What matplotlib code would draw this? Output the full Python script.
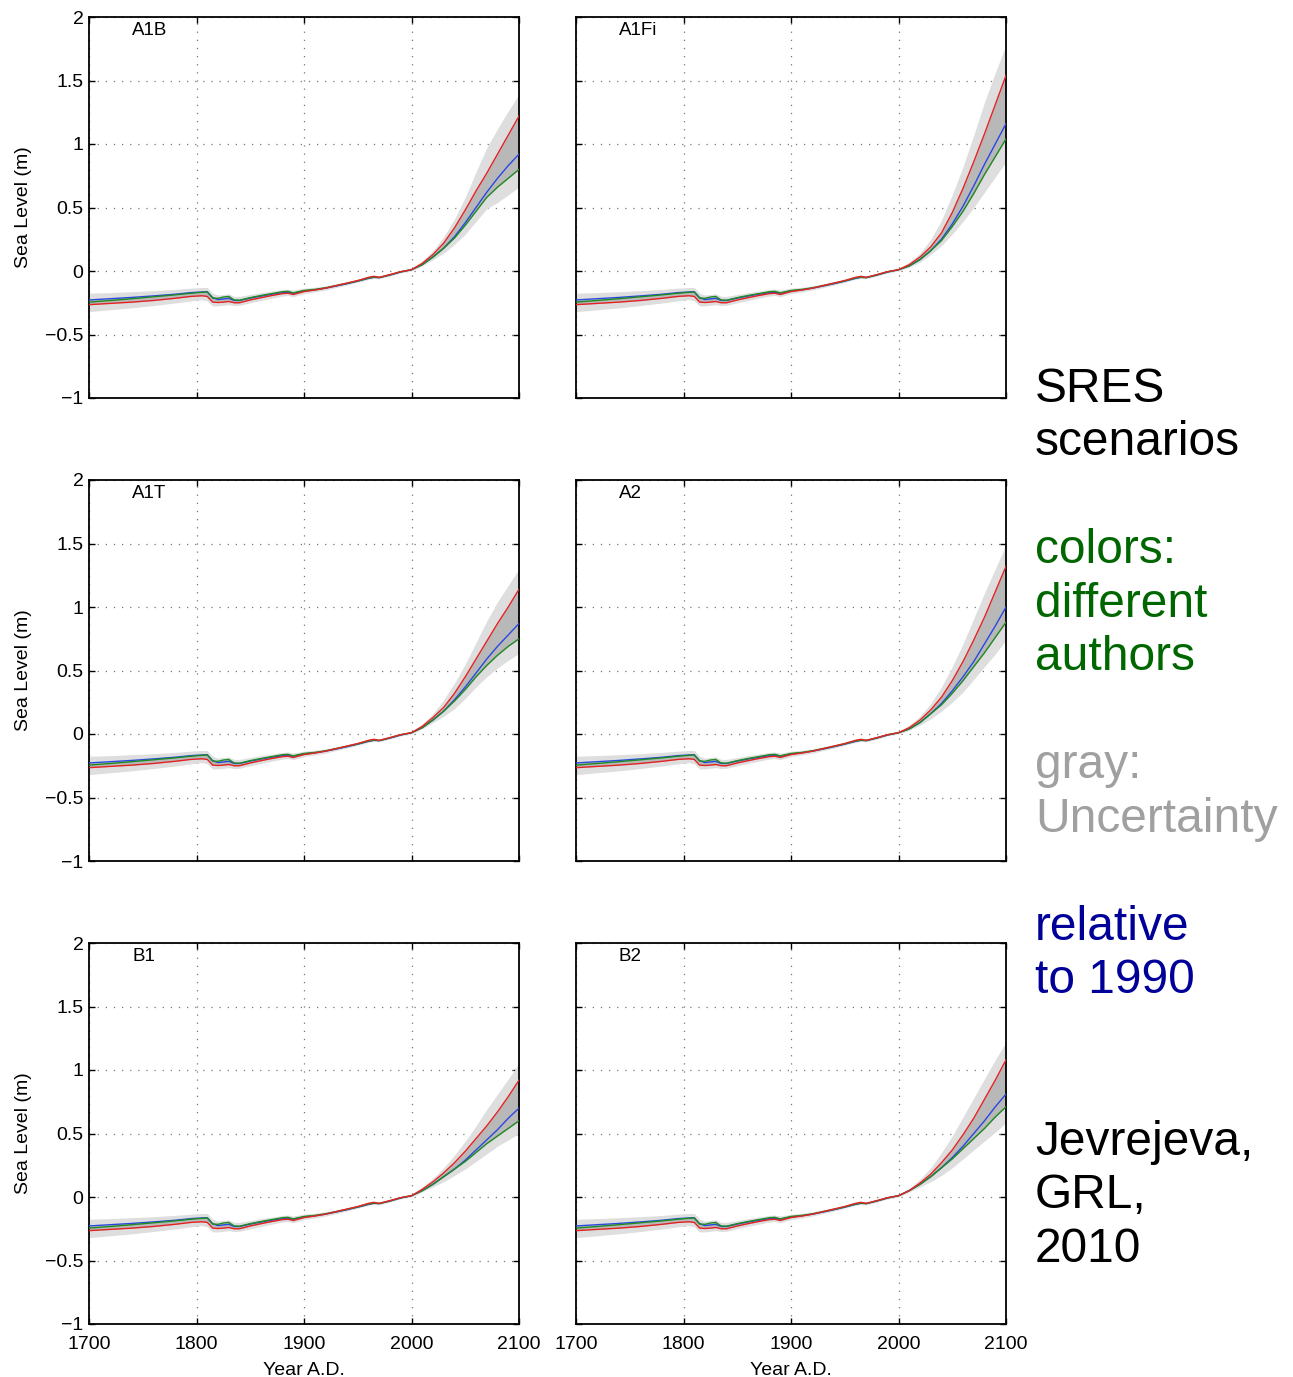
import numpy as np
import matplotlib
matplotlib.use("Agg")
import matplotlib.pyplot as plt

plt.rcParams["font.family"] = ["Liberation Sans", "DejaVu Sans"]

# historic reconstruction, shared by every panel (m, relative to 1990)
years_hist = [1700, 1720, 1740, 1760, 1780, 1795, 1805, 1810, 1815, 1820, 1825,
              1830, 1835, 1840, 1850, 1860, 1870, 1880, 1885, 1890, 1900, 1910,
              1920, 1930, 1940, 1950, 1960, 1965, 1970, 1980, 1990]
red_hist = [-0.265, -0.255, -0.245, -0.232, -0.215, -0.20, -0.195, -0.20, -0.245,
            -0.248, -0.245, -0.24, -0.25, -0.25, -0.228, -0.21, -0.193, -0.178,
            -0.175, -0.185, -0.162, -0.150, -0.135, -0.115, -0.095, -0.075, -0.05,
            -0.042, -0.05, -0.028, -0.005]
blue_hist = [-0.228, -0.218, -0.208, -0.196, -0.183, -0.170, -0.165, -0.163, -0.210,
             -0.225, -0.220, -0.215, -0.232, -0.232, -0.213, -0.197, -0.183, -0.170,
             -0.168, -0.175, -0.157, -0.148, -0.135, -0.118, -0.100, -0.080, -0.058,
             -0.050, -0.052, -0.032, -0.008]
green_hist = [-0.245, -0.232, -0.218, -0.203, -0.188, -0.175, -0.168, -0.165, -0.213,
              -0.215, -0.205, -0.200, -0.228, -0.230, -0.210, -0.193, -0.178, -0.163,
              -0.160, -0.172, -0.153, -0.145, -0.132, -0.115, -0.097, -0.078, -0.055,
              -0.048, -0.052, -0.030, -0.006]
hi_hist = [-0.175, -0.170, -0.163, -0.155, -0.145, -0.135, -0.13, -0.13, -0.175,
           -0.19, -0.185, -0.18, -0.20, -0.20, -0.185, -0.170, -0.158, -0.145,
           -0.142, -0.150, -0.135, -0.128, -0.117, -0.100, -0.083, -0.065, -0.040,
           -0.033, -0.038, -0.020, 0.005]
lo_hist = [-0.32, -0.305, -0.29, -0.272, -0.252, -0.235, -0.225, -0.235, -0.275,
           -0.275, -0.27, -0.265, -0.272, -0.27, -0.25, -0.232, -0.214, -0.197,
           -0.193, -0.202, -0.178, -0.165, -0.150, -0.130, -0.110, -0.088, -0.066,
           -0.058, -0.062, -0.040, -0.015]

# projections 2000-2100, every 10 years
years_proj = [2000, 2010, 2020, 2030, 2040, 2050, 2060, 2070, 2080, 2090, 2100]
scenarios = ["A1B", "A1Fi", "A1T", "A2", "B1", "B2"]

red_proj = {
    "A1B":  [0.01, 0.06, 0.13, 0.22, 0.34, 0.48, 0.63, 0.77, 0.92, 1.07, 1.22],
    "A1Fi": [0.01, 0.05, 0.11, 0.19, 0.30, 0.46, 0.65, 0.86, 1.08, 1.31, 1.54],
    "A1T":  [0.01, 0.06, 0.13, 0.21, 0.32, 0.45, 0.59, 0.73, 0.87, 1.00, 1.14],
    "A2":   [0.01, 0.05, 0.11, 0.19, 0.29, 0.42, 0.57, 0.74, 0.92, 1.12, 1.32],
    "B1":   [0.01, 0.06, 0.12, 0.19, 0.27, 0.36, 0.46, 0.56, 0.67, 0.79, 0.92],
    "B2":   [0.01, 0.05, 0.11, 0.18, 0.27, 0.37, 0.49, 0.62, 0.77, 0.92, 1.08],
}
blue_proj = {
    "A1B":  [0.01, 0.05, 0.11, 0.18, 0.27, 0.38, 0.50, 0.62, 0.73, 0.83, 0.92],
    "A1Fi": [0.01, 0.04, 0.09, 0.16, 0.25, 0.37, 0.51, 0.67, 0.84, 1.00, 1.16],
    "A1T":  [0.01, 0.05, 0.11, 0.18, 0.27, 0.37, 0.48, 0.59, 0.69, 0.78, 0.87],
    "A2":   [0.01, 0.04, 0.09, 0.16, 0.24, 0.34, 0.45, 0.57, 0.71, 0.85, 1.00],
    "B1":   [0.01, 0.05, 0.10, 0.16, 0.22, 0.29, 0.37, 0.45, 0.53, 0.62, 0.70],
    "B2":   [0.01, 0.05, 0.10, 0.16, 0.23, 0.31, 0.40, 0.50, 0.60, 0.71, 0.81],
}
green_proj = {
    "A1B":  [0.01, 0.05, 0.11, 0.18, 0.26, 0.36, 0.47, 0.58, 0.66, 0.73, 0.80],
    "A1Fi": [0.01, 0.04, 0.09, 0.16, 0.24, 0.35, 0.47, 0.61, 0.76, 0.90, 1.04],
    "A1T":  [0.01, 0.05, 0.11, 0.18, 0.26, 0.35, 0.45, 0.54, 0.62, 0.69, 0.75],
    "A2":   [0.01, 0.04, 0.09, 0.16, 0.23, 0.32, 0.42, 0.53, 0.64, 0.76, 0.88],
    "B1":   [0.01, 0.05, 0.10, 0.16, 0.22, 0.28, 0.35, 0.42, 0.48, 0.54, 0.60],
    "B2":   [0.01, 0.05, 0.10, 0.16, 0.23, 0.30, 0.38, 0.46, 0.54, 0.63, 0.71],
}
hi_proj = {
    "A1B":  [0.02, 0.08, 0.16, 0.27, 0.41, 0.58, 0.78, 0.97, 1.12, 1.26, 1.39],
    "A1Fi": [0.02, 0.07, 0.14, 0.25, 0.40, 0.60, 0.82, 1.07, 1.33, 1.56, 1.78],
    "A1T":  [0.02, 0.08, 0.16, 0.27, 0.40, 0.55, 0.72, 0.89, 1.04, 1.17, 1.30],
    "A2":   [0.02, 0.07, 0.14, 0.24, 0.37, 0.53, 0.71, 0.91, 1.11, 1.30, 1.49],
    "B1":   [0.02, 0.08, 0.15, 0.23, 0.33, 0.44, 0.56, 0.69, 0.81, 0.93, 1.05],
    "B2":   [0.02, 0.07, 0.14, 0.23, 0.35, 0.48, 0.63, 0.78, 0.93, 1.08, 1.22],
}
lo_proj = {
    "A1B":  [0.00, 0.04, 0.09, 0.14, 0.21, 0.29, 0.39, 0.49, 0.54, 0.60, 0.66],
    "A1Fi": [0.00, 0.03, 0.07, 0.13, 0.20, 0.29, 0.39, 0.50, 0.62, 0.74, 0.86],
    "A1T":  [0.00, 0.04, 0.09, 0.14, 0.20, 0.28, 0.37, 0.45, 0.52, 0.58, 0.635],
    "A2":   [0.00, 0.03, 0.07, 0.12, 0.18, 0.25, 0.33, 0.43, 0.53, 0.63, 0.74],
    "B1":   [0.00, 0.04, 0.08, 0.12, 0.17, 0.22, 0.28, 0.34, 0.40, 0.45, 0.50],
    "B2":   [0.00, 0.04, 0.08, 0.12, 0.17, 0.23, 0.30, 0.37, 0.44, 0.51, 0.585],
}

x_ticks = [1700, 1800, 1900, 2000, 2100]
y_ticks = [-1, -0.5, 0, 0.5, 1, 1.5, 2]
y_ticklabels = ["\u22121", "\u22120.5", "0", "0.5", "1", "1.5", "2"]

# side notes: (text, baseline pixel row, colour)
notes = [("SRES", 402, "black"), ("scenarios", 455, "black"),
         ("colors:", 563, "#006600"), ("different", 617, "#006600"),
         ("authors", 670, "#006600"),
         ("gray:", 778, "#a0a0a0"), ("Uncertainty", 832, "#a0a0a0"),
         ("relative", 940, "#000099"), ("to 1990", 993, "#000099"),
         ("Jevrejeva,", 1155, "black"), ("GRL,", 1208, "black"),
         ("2010", 1262, "black")]

W, H = 1293, 1377
fig = plt.figure(figsize=(W / 100, H / 100), dpi=100)

col_left = [89, 576]
row_top = [17, 480, 943]
ax_w, ax_h = 430, 381

years = np.array(years_hist + years_proj, dtype=float)

for k, name in enumerate(scenarios):
    r, c = divmod(k, 2)
    ax = fig.add_axes([col_left[c] / W, 1 - (row_top[r] + ax_h) / H, ax_w / W, ax_h / H])

    red = np.array(red_hist + red_proj[name])
    blue = np.array(blue_hist + blue_proj[name])
    green = np.array(green_hist + green_proj[name])
    hi = np.array(hi_hist + hi_proj[name])
    lo = np.array(lo_hist + lo_proj[name])

    ax.fill_between(years, lo, hi, color="#dedede", lw=0, zorder=1)
    lower = np.minimum(np.minimum(red, blue), green)
    upper = np.maximum(np.maximum(red, blue), green)
    ax.fill_between(years, lower, upper, color="#b8b8b8", lw=0, zorder=2)

    ax.plot(years, blue, color="#2a48e0", lw=1.0, zorder=3)
    ax.plot(years, green, color="#1f8a22", lw=1.0, zorder=4)
    ax.plot(years, red, color="#e52222", lw=1.0, zorder=5)

    ax.set_xlim(1700, 2100)
    ax.set_ylim(-1, 2)
    ax.set_xticks(x_ticks)
    ax.set_yticks(y_ticks)
    ax.grid(True, color="#777777", lw=0.9, linestyle=(0, (1, 5.5)), zorder=0)
    ax.set_axisbelow(True)
    ax.tick_params(direction="in", top=True, right=True, length=4, width=1.0,
                   labelsize=14)
    ax.tick_params(axis="x", pad=8.5)
    ax.tick_params(axis="y", pad=4)
    for s in ax.spines.values():
        s.set_linewidth(1.3)

    if c == 0:
        ax.set_yticklabels(y_ticklabels)
        fig.text(23 / W, 1 - (row_top[r] + ax_h / 2) / H, "Sea Level (m)",
                 rotation=90, ha="center", va="center", fontsize=14)
    else:
        ax.set_yticklabels([])
    if r == 2:
        ax.set_xticklabels([str(t) for t in x_ticks])
        ax.set_xlabel("Year A.D.", fontsize=14, labelpad=6.5)
    else:
        ax.set_xticklabels([])

    ax.text(0.1, 0.988, name, transform=ax.transAxes, ha="left", va="top",
            fontsize=13.5)

for txt, base, col in notes:
    fig.text(1035 / W, 1 - base / H, txt, color=col, fontsize=34.5,
             ha="left", va="baseline")

fig.savefig("out.png", dpi=100)
